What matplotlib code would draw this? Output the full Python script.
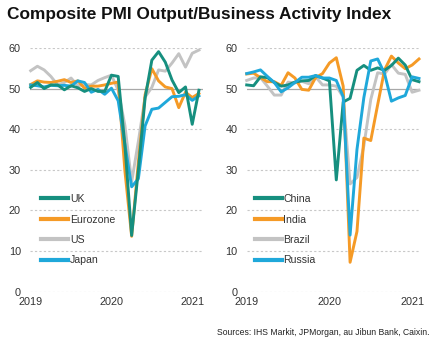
import matplotlib
matplotlib.use("Agg")
import matplotlib.pyplot as plt
import numpy as np

plt.rcParams['font.family'] = ['Liberation Sans', 'DejaVu Sans']

# monthly composite PMI, Jan 2019 .. Feb 2021
uk = [50.3, 51.5, 50.0, 50.9, 50.9, 49.7, 50.7, 50.2, 49.3, 50.0, 49.3, 49.3,
      53.3, 53.0, 36.0, 13.8, 30.0, 47.7, 57.0, 59.1, 56.5, 52.1, 49.0, 50.4,
      41.2, 49.6]
eurozone = [51.0, 51.9, 51.6, 51.5, 51.8, 52.2, 51.5, 51.9, 50.1, 50.6, 50.6, 50.9,
            51.3, 51.6, 29.7, 13.6, 31.9, 48.5, 54.9, 51.9, 50.4, 50.0, 45.3, 49.1,
            47.8, 48.8]
us = [54.4, 55.5, 54.6, 53.0, 50.9, 51.5, 52.6, 50.7, 51.0, 50.9, 52.0, 52.7,
      53.3, 49.6, 40.9, 27.0, 37.0, 47.9, 50.3, 54.6, 54.3, 56.3, 58.6, 55.3,
      58.7, 59.5]
japan = [50.9, 50.7, 50.4, 50.8, 50.7, 50.8, 50.6, 51.9, 51.5, 49.1, 49.8, 48.6,
         50.1, 47.0, 36.2, 25.8, 27.8, 40.8, 44.9, 45.2, 46.6, 48.0, 48.1, 48.5,
         47.1, 48.2]

china = [50.9, 50.7, 52.9, 52.7, 51.5, 50.6, 50.9, 51.6, 51.9, 52.0, 53.2, 52.6,
         51.9, 27.5, 46.7, 47.6, 54.5, 55.7, 54.5, 55.1, 54.5, 55.7, 57.5, 55.8,
         52.2, 51.7]
india = [53.6, 53.8, 52.7, 51.7, 51.7, 50.8, 53.9, 52.6, 49.8, 49.6, 52.7, 53.7,
         56.3, 57.6, 50.6, 7.2, 14.8, 37.8, 37.2, 46.0, 54.6, 58.0, 56.3, 54.9,
         55.8, 57.3]
brazil = [52.0, 52.6, 52.7, 50.6, 48.4, 48.4, 51.6, 51.4, 51.8, 51.2, 52.9, 50.9,
          50.9, 50.6, 47.9, 26.5, 28.1, 35.9, 47.3, 53.9, 53.6, 55.9, 53.8, 53.5,
          49.1, 49.6]
russia = [53.7, 54.1, 54.6, 53.0, 51.5, 49.2, 50.2, 51.5, 52.8, 52.8, 53.2, 52.6,
          52.6, 52.0, 48.0, 13.9, 35.0, 47.8, 56.8, 57.3, 53.7, 46.9, 47.7, 48.3,
          52.9, 52.5]

year_labels = ['2019', '2020', '2021']
year_months = [0, 12, 24]
months = np.arange(len(uk))

TEAL = '#168f7f'
ORANGE = '#f59a26'
GREY = '#c3c3c3'
CYAN = '#1fa8da'
TEXT = '#333333'

fig = plt.figure(figsize=(4.39, 3.41), dpi=100)
ax1 = fig.add_axes([30 / 439, 49.5 / 341, 173 / 439, 243.5 / 341])
ax2 = fig.add_axes([246.7 / 439, 49.5 / 341, 172.3 / 439, 243.5 / 341])


def style(ax, xlim):
    for s in ax.spines.values():
        s.set_visible(False)
    ax.set_xlim(*xlim)
    ax.set_ylim(0, 60)
    ax.set_yticks([0, 10, 20, 30, 40, 50, 60])
    ax.set_xticks(year_months)
    ax.set_xticklabels(year_labels)
    ax.tick_params(length=0, labelsize=7.8, colors=TEXT)
    ax.tick_params(axis='y', pad=6.5)
    ax.tick_params(axis='x', pad=4)
    for v in [0, 10, 20, 30, 40, 60]:
        ax.axhline(v, color='#c8c8c8', lw=0.8, ls=(0, (2, 2)), zorder=0)
    ax.axhline(50, color='#a8a8a8', lw=0.9, zorder=0.5)


style(ax1, (-0.1, 25.6))
style(ax2, (0, 25))

lw = 2.1
l_us, = ax1.plot(months, us, color=GREY, lw=lw, clip_on=False, label='US')
l_ez, = ax1.plot(months, eurozone, color=ORANGE, lw=lw, clip_on=False, label='Eurozone')
l_jp, = ax1.plot(months, japan, color=CYAN, lw=lw, clip_on=False, label='Japan')
l_uk, = ax1.plot(months, uk, color=TEAL, lw=lw, clip_on=False, label='UK')

l_br, = ax2.plot(months, brazil, color=GREY, lw=lw, clip_on=False, label='Brazil')
l_in, = ax2.plot(months, india, color=ORANGE, lw=lw, clip_on=False, label='India')
l_cn, = ax2.plot(months, china, color=TEAL, lw=lw, clip_on=False, label='China')
l_ru, = ax2.plot(months, russia, color=CYAN, lw=lw, clip_on=False, label='Russia')

leg_kw = dict(loc='lower left', frameon=False, fontsize=7.6, handlelength=2.55,
              handletextpad=0.15, labelspacing=0.98, borderpad=0, labelcolor=TEXT)
leg1 = ax1.legend([l_uk, l_ez, l_us, l_jp], ['UK', 'Eurozone', 'US', 'Japan'],
                  bbox_to_anchor=(6 / 173, 21 / 243.5), **leg_kw)
leg2 = ax2.legend([l_cn, l_in, l_br, l_ru], ['China', 'India', 'Brazil', 'Russia'],
                  bbox_to_anchor=(3 / 172.3, 21 / 243.5), **leg_kw)
for leg in (leg1, leg2):
    for h in leg.legend_handles:
        h.set_linewidth(3)

fig.text(7 / 439, 1 - 18.5 / 341, 'Composite PMI Output/Business Activity Index',
         fontsize=12.4, fontweight='bold', color='#111111')
fig.text(430 / 439, 1 - 335 / 341, 'Sources: IHS Markit, JPMorgan, au Jibun Bank, Caixin.',
         fontsize=6.2, ha='right', color='#222222')

fig.savefig('out.png', dpi=100)
